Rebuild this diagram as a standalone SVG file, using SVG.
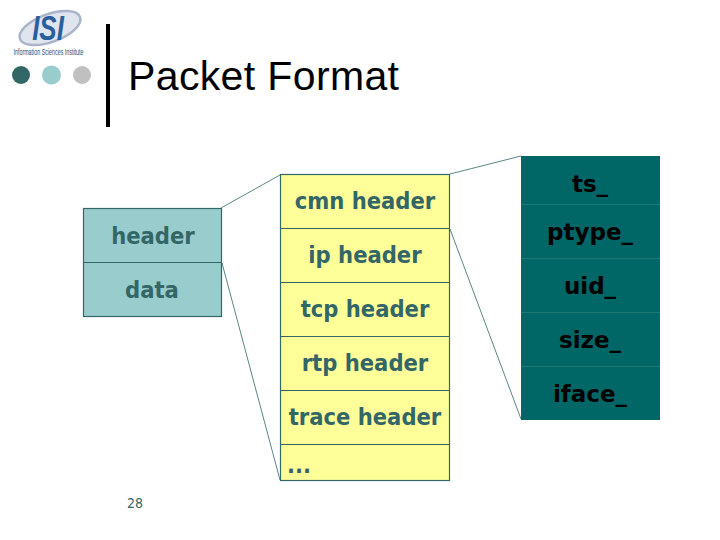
<svg xmlns="http://www.w3.org/2000/svg" width="720" height="540" viewBox="0 0 720 540">
<style>
text{font-family:"DejaVu Sans","Liberation Sans",sans-serif;text-anchor:middle}
.l{font-size:23.500px;font-weight:700;font-stretch:condensed;fill:#336666}
.d{font-size:23px;font-weight:700;fill:#000}
.c{stroke:#336666;stroke-width:.8;fill:none}
.b{stroke:#336666;stroke-width:1.2}
.s{stroke:#1f7a72;stroke-width:1;fill:none}
</style>
<rect width="720" height="540" fill="#fff"/>
<g id="logo">
<ellipse cx="50" cy="28" rx="32" ry="14" fill="#dfe4ee" stroke="#aab4c8" stroke-width="2.500" transform="rotate(-20 50 28)"/>
<text x="0" y="0" transform="translate(48 40) scale(.72 1)" style="font-family:'Liberation Sans',sans-serif;font-size:36px;font-weight:700;font-style:italic;fill:#2a5f9e">ISI</text>
<text x="48.500" y="55" style="font-family:'Liberation Sans',sans-serif;font-size:9.500px;fill:#2b4a7a" textLength="70" lengthAdjust="spacingAndGlyphs">Information Sciences Institute</text>
</g>
<g id="bullets">
<circle cx="21" cy="75" r="9" fill="#336666"/>
<circle cx="51.500" cy="75" r="9.500" fill="#99cccc"/>
<circle cx="82" cy="75" r="9" fill="#c0c0c0"/>
</g>
<rect id="title-bar" x="106" y="24" width="4" height="103" fill="#000"/>
<text id="title" x="128" y="90" textLength="271" style="font-family:'Liberation Sans',sans-serif;font-size:41px;text-anchor:start;fill:#000">Packet Format</text>
<g id="connectors">
<line class="c" x1="221" y1="208" x2="280" y2="175"/>
<line class="c" x1="222" y1="263" x2="280" y2="480"/>
<line class="c" x1="450" y1="174" x2="521" y2="156"/>
<line class="c" x1="450" y1="229" x2="521" y2="419"/>
</g>
<g id="packet">
<rect x="83.500" y="208.500" width="138" height="108" fill="#99cccc" class="b"/>
<line class="b" x1="83.500" y1="262.500" x2="221.500" y2="262.500"/>
<text class="l" x="153" y="244">header</text>
<text class="l" x="152" y="298">data</text>
</g>
<g id="headers">
<rect x="280.500" y="174.500" width="169" height="306" fill="#ffff99" class="b"/>
<line class="b" x1="280.500" y1="228.500" x2="449.500" y2="228.500"/>
<line class="b" x1="280.500" y1="282.500" x2="449.500" y2="282.500"/>
<line class="b" x1="280.500" y1="336.500" x2="449.500" y2="336.500"/>
<line class="b" x1="280.500" y1="390.500" x2="449.500" y2="390.500"/>
<line class="b" x1="280.500" y1="444.500" x2="449.500" y2="444.500"/>
<text class="l" x="365" y="209">cmn header</text>
<text class="l" x="365" y="263">ip header</text>
<text class="l" x="365" y="317">tcp header</text>
<text class="l" x="365" y="371">rtp header</text>
<text class="l" x="365" y="425">trace header</text>
<text class="l" x="299" y="473">...</text>
</g>
<g id="fields">
<rect x="521" y="156" width="139" height="264" fill="#006666"/>
<line class="s" x1="521" y1="204.500" x2="660" y2="204.500"/>
<line class="s" x1="521" y1="258.500" x2="660" y2="258.500"/>
<line class="s" x1="521" y1="312.500" x2="660" y2="312.500"/>
<line class="s" x1="521" y1="366.500" x2="660" y2="366.500"/>
<text class="d" x="590" y="192">ts_</text>
<text class="d" x="590" y="240">ptype_</text>
<text class="d" x="590" y="294">uid_</text>
<text class="d" x="590" y="348">size_</text>
<text class="d" x="590" y="402">iface_</text>
</g>
<text id="page" x="135" y="508" style="font-size:14px;font-stretch:condensed;fill:#336666">28</text>
</svg>
